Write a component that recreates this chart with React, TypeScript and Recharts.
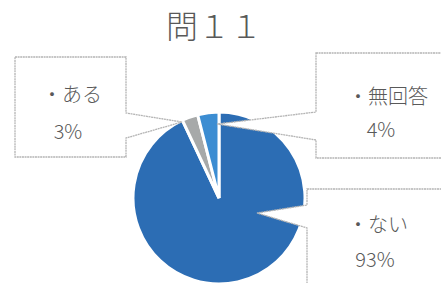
import { PieChart, Pie, Cell } from 'recharts'

const categories = ['ない', 'ある', '無回答']
const values = [93, 3, 4]
const percentLabels = ['93%', '3%', '4%']
const title = '問１１'

const colors = ['#2c6db4', '#a7a9a9', '#3c8dd2']

// callout layout, offsets relative to the pie centre
const callouts = [
  { box: [88, -9, 240, 140], side: 'left', base: [7, 30], tip: [38, 15], t1: [159, 25], t2: [156, 60] },
  { box: [-204, -141, 111, 100], side: 'right', base: [-85, -60], tip: [-37, -76], t1: [-147, -105], t2: [-151, -68] },
  { box: [97, -145, 140, 105], side: 'left', base: [-86, -58], tip: [-2, -74], t1: [169, -103], t2: [162, -70] },
]

const data = categories.map((name, i) => ({ name, value: values[i], pct: percentLabels[i] }))

const textStyle = {
  fill: '#595959',
  fontSize: 20,
  fontFamily: "'Noto Sans CJK JP', sans-serif",
  fontWeight: 300,
}

const renderCallout = (props: any) => {
  const { cx, cy, index } = props
  const c = callouts[index]
  const [bx, by, bw, bh] = c.box
  const x0 = cx + bx
  const y0 = cy + by
  const x1 = x0 + bw
  const y1 = y0 + bh
  const tx = cx + c.tip[0]
  const ty = cy + c.tip[1]
  const b0 = cy + c.base[0]
  const b1 = cy + c.base[1]
  let d = ''
  if (c.side === 'left') {
    d = `M${x0},${y0} L${x1},${y0} L${x1},${y1} L${x0},${y1} L${x0},${b1} L${tx},${ty} L${x0},${b0} Z`
  } else {
    d = `M${x0},${y0} L${x1},${y0} L${x1},${b0} L${tx},${ty} L${x1},${b1} L${x1},${y1} L${x0},${y1} Z`
  }
  const entry = data[index]
  return (
    <g key={`callout-${index}`}>
      <path d={d} fill="#fff" stroke="#b4b4b4" strokeWidth={1.3} strokeDasharray="2 0.6" />
      <text x={cx + c.t1[0]} y={cy + c.t1[1]} textAnchor="middle" dominantBaseline="central" {...textStyle}>
        {'・' + entry.name}
      </text>
      <text x={cx + c.t2[0]} y={cy + c.t2[1]} textAnchor="middle" dominantBaseline="central" {...textStyle}>
        {entry.pct}
      </text>
    </g>
  )
}

export default function App() {
  return (
    <div style={{ position: 'relative', width: 441, height: 283, background: '#fff', overflow: 'hidden' }}>
      <style>{'body{margin:0}'}</style>
      <div
        style={{
          position: 'absolute',
          top: 1,
          left: 0,
          width: 428,
          textAlign: 'center',
          fontSize: 32,
          color: '#595959',
          fontFamily: "'Noto Sans CJK JP', sans-serif",
          fontWeight: 300,
          lineHeight: '46px',
        }}
      >
        {title}
      </div>
      <PieChart width={441} height={283} style={{ position: 'absolute', top: 0, left: 0 }}>
        <Pie
          data={data}
          dataKey="value"
          nameKey="name"
          cx={214}
          cy={193}
          outerRadius={86}
          startAngle={90}
          endAngle={-270}
          stroke="#fff"
          strokeWidth={3}
          label={renderCallout}
          labelLine={false}
          isAnimationActive={false}
        >
          {data.map((d, i) => (
            <Cell key={d.name} fill={colors[i]} />
          ))}
        </Pie>
      </PieChart>
    </div>
  )
}
